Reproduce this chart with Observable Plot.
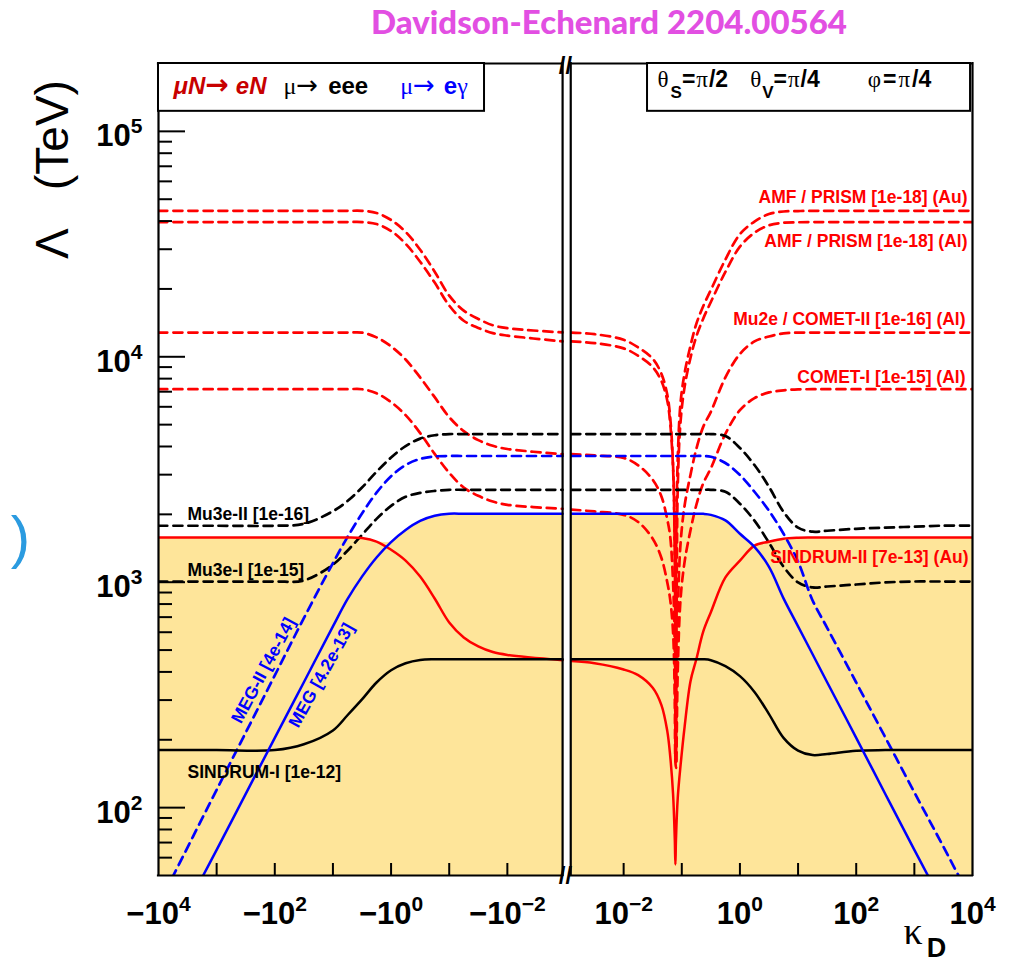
<!DOCTYPE html>
<html>
<head>
<meta charset="utf-8">
<script src="https://cdn.jsdelivr.net/npm/d3@7"></script>
<script src="https://cdn.jsdelivr.net/npm/@observablehq/plot@0.6"></script>
<style>
  html, body { margin: 0; padding: 0; background: #fff; }
  #title { height: 40px; width: 1010px; box-sizing: border-box; padding-left: 208px; text-align: center;
           font-family: Lato, "Open Sans", sans-serif; font-weight: 900; font-size: 33px; line-height: 42px; color: #e24fe2; }
  #chart svg { display: block; }
</style>
</head>
<body>
<div id="title">Davidson-Echenard 2204.00564</div>
<div id="chart"></div>
<script>
// ================= DATA =================
// Left panel: κ_D < 0, grid given as log10|κ_D|
const logKappaLeft = [4, 3, 2, 1.5, 1, 0.75, 0.5, 0.25, 0, -0.25, -0.5, -0.75, -1, -1.25, -1.5, -1.75, -2, -2.95];
// Right panel: κ_D > 0, grid given as log10 κ_D
const logKappaRight = [-2.9, -2.5, -2, -1.75, -1.5, -1.35, -1.25, -1.2, -1.15, -1.12, -1.11, -1.1, -1.07, -1.02, -0.95, -0.85,
                       -0.75, -0.63, -0.5, -0.25, 0, 0.25, 0.5, 0.75, 1, 1.25, 1.5, 2, 2.5, 3, 3.5, 4];

// Λ (TeV) — μN→eN (red)
const sindrumII_L = [1580,1580,1580,1580,1580,1580,1570,1515,1393,1247,1059,847,663,569,519,490,476,451];
const sindrumII_R = [447,437,410,387,340,285,219,170,115,72,56,72,110,155,230,364,455,605,736,1050,1247,1453,1513,1560,1575,1577,1577,1577,1577,1577,1577,1577];
const amfAu_L = [44400,44400,44400,44400,44400,44400,44400,43450,40460,35820,29840,23850,18670,16030,14720,13800,13400,12820];
const amfAu_R = [12800,12600,11900,11000,9800,8400,6800,5400,3300,1200,160,1200,3500,6300,8500,11200,14000,16800,19800,27000,35000,39800,43000,44100,44300,44400,44400,44400,44400,44400,44400,44400];
const amfAl_L = [39600,39600,39600,39600,39600,39600,39600,38800,36150,31720,26400,21330,16880,14450,13430,12740,12420,11700];
const amfAl_R = [11700,11500,10900,10100,9000,7800,6400,5100,3200,1300,300,160,2600,5200,7400,9900,12300,14800,17500,23800,30800,35500,38300,39300,39500,39600,39600,39600,39600,39600,39600,39600];
const mu2e_L = [12800,12800,12800,12800,12800,12800,12800,12190,11120,9730,8100,6620,5400,4680,4270,4030,3900,3700];
const mu2e_R = [3700,3650,3560,3300,2850,2400,1900,1600,1000,500,250,160,700,1500,2200,3000,3900,4900,5700,8100,10300,11700,12300,12700,12800,12800,12800,12800,12800,12800,12800,12800];
const cometI_L = [7180,7180,7180,7180,7180,7180,7180,6890,6290,5510,4590,3710,3057,2630,2417,2280,2205,2117];
const cometI_R = [2100,2060,1990,1850,1560,1280,1000,840,600,300,160,150,400,850,1240,1700,2200,2750,3200,4550,5800,6550,6950,7100,7170,7180,7180,7180,7180,7180,7180,7180];

// Λ (TeV) — μ→eee (black)
const sindrumI_L = [180,180,180,191,220,257,302,359,407,437,452,455,455,455,455,455,455,455];
const sindrumI_R = [455,455,455,455,455,455,455,455,455,455,455,455,455,455,455,455,455,455,451,424,383,326,260,204,179,171,173,179,180,180,180,180];
const mu3eII_L = [1780,1780,1780,1815,2065,2291,2630,3090,3573,4018,4335,4487,4540,4540,4540,4540,4540,4540];
const mu3eII_R = [4540,4540,4540,4540,4540,4540,4540,4540,4540,4540,4540,4540,4540,4540,4540,4540,4540,4540,4540,4450,3940,3310,2650,2052,1746,1675,1692,1726,1746,1764,1782,1782];
const mu3eI_L = [1007,1007,1007,1018,1197,1380,1622,1910,2181,2392,2490,2541,2570,2570,2570,2570,2570,2570];
const mu3eI_R = [2570,2570,2570,2570,2570,2570,2570,2570,2570,2570,2570,2570,2570,2570,2570,2570,2570,2570,2570,2518,2228,1875,1497,1172,998,948,957,977,998,1007,1007,1007];

// Λ (TeV) — μ→eγ (blue)
const meg_L = [21,65,204,360,637,841,1059,1288,1507,1706,1871,1972,2013,2013,2013,2013,2013,2013];
const meg_R = [2013,2013,2013,2013,2013,2013,2013,2013,2013,2013,2013,2013,2013,2013,2013,2013,2013,2010,1990,1880,1640,1435,1170,848,637,479,360,204,115,65,37,21];
const megII_L = [37,120,386,693,1216,1585,2018,2495,2951,3311,3524,3614,3630,3630,3630,3630,3630,3630];
const megII_R = [3630,3630,3630,3630,3630,3630,3630,3630,3630,3630,3630,3630,3630,3630,3630,3630,3630,3630,3600,3380,2990,2520,2075,1640,1234,830,628,359,205,117,67,38];

// tick labels (exponents)
const xLabelExpLeft = [4, 2, 0, -2];     // −10^e
const xLabelExpRight = [-2, 0, 2, 4];    // 10^e
const xDecadeExpLeft = [3, 2, 1, 0, -1, -2];
const xDecadeExpRight = [-2, -1, 0, 1, 2, 3];
const yLabelExp = [2, 3, 4, 5];

// text
const curveLabels = ["Mu3e-II [1e-16]", "Mu3e-I [1e-15]", "SINDRUM-I [1e-12]", "MEG-II [4e-14]", "MEG [4.2e-13]",
  "SINDRUM-II [7e-13] (Au)", "AMF / PRISM [1e-18] (Au)", "AMF / PRISM [1e-18] (Al)", "Mu2e / COMET-II [1e-16] (Al)", "COMET-I [1e-15] (Al)"];

// ================= LAYOUT / SCALES =================
const yMin = 50, yMax = 2.0e5;
const sNeg = lk => 4 - lk;   // broken-axis position of κ = −10^lk
const sPos = lk => 10 + lk;  // broken-axis position of κ = +10^lk
const S_BREAK_L = sNeg(-2.95), S_BREAK_R = sPos(-2.91);

const leftRows = logKappaLeft.map((lk, i) => ({
  s: sNeg(lk), sindrumII: sindrumII_L[i], amfAu: amfAu_L[i], amfAl: amfAl_L[i], mu2e: mu2e_L[i], cometI: cometI_L[i],
  sindrumI: sindrumI_L[i], mu3eII: mu3eII_L[i], mu3eI: mu3eI_L[i], meg: meg_L[i], megII: megII_L[i]
}));
const rightRows = logKappaRight.map((lk, i) => ({
  s: sPos(lk), sindrumII: sindrumII_R[i], amfAu: amfAu_R[i], amfAl: amfAl_R[i], mu2e: mu2e_R[i], cometI: cometI_R[i],
  sindrumI: sindrumI_R[i], mu3eII: mu3eII_R[i], mu3eI: mu3eI_R[i], meg: meg_R[i], megII: megII_R[i]
}));
const envelope = d => Math.max(d.sindrumII, d.sindrumI, d.meg);

const RED = "#ff0000", BLUE = "#0000ff", BLACK = "#000000";
const styles = [
  ["amfAu", RED, true], ["amfAl", RED, true], ["mu2e", RED, true], ["cometI", RED, true],
  ["mu3eII", BLACK, true], ["mu3eI", BLACK, true], ["megII", BLUE, true],
  ["sindrumII", RED, false], ["sindrumI", BLACK, false], ["meg", BLUE, false]
];

const lineMarks = [];
for (const rows of [leftRows, rightRows]) {
  for (const [key, color, dashed] of styles) {
    lineMarks.push(Plot.line(rows, {
      x: "s", y: key, stroke: color, strokeWidth: dashed ? 2.7 : 2.5,
      strokeDasharray: dashed ? "9,6" : null, curve: "catmull-rom", clip: true
    }));
  }
}

const yMajor = yLabelExp.map(e => 10 ** e);
const yMinor = [];
for (let e = 1; e <= 5; e++) for (let m = 2; m <= 9; m++) { const v = m * 10 ** e; if (v > yMin && v < yMax) yMinor.push(v); }
const xTickPos = [...xDecadeExpLeft.map(sNeg), ...xDecadeExpRight.map(sPos)];
const px = p => p / 58.14;             // pixel length -> s units
const ypx = (v, p) => v * 10 ** (p / 225); // move a y value up by p pixels

const sup = e => (e < 0 ? "\u2212" + (-e) : String(e));
const xLabels = [
  ...xLabelExpLeft.map(e => ({s: sNeg(e), t: "\u221210^" + sup(e)})),
  ...xLabelExpRight.map(e => ({s: sPos(e), t: "10^" + sup(e)}))
];

const SERIF = "'Liberation Serif', 'DejaVu Serif', serif";
const ARROW = "'DejaVu Sans', sans-serif";
const RICH = {
  "@legL": `<tspan fill="#c80000" font-weight="bold" font-style="italic">μN</tspan><tspan fill="#c80000" font-family="${ARROW}" font-weight="bold" font-size="28">→</tspan><tspan fill="#c80000" font-weight="bold" font-style="italic" dx="7">eN</tspan>` +
           `<tspan dx="17" font-family="${SERIF}">μ</tspan><tspan font-family="${ARROW}" font-size="26">→</tspan><tspan dx="10" font-weight="bold">eee</tspan>` +
           `<tspan dx="32" fill="#0000ff" font-family="${SERIF}">μ</tspan><tspan fill="#0000ff" font-family="${ARROW}" font-size="26">→</tspan><tspan dx="9" fill="#0000ff" font-weight="bold">e</tspan><tspan fill="#0000ff" font-family="${SERIF}">γ</tspan>`,
  "@legR": `<tspan font-family="${SERIF}">θ</tspan><tspan font-weight="bold" font-size="17" dy="11" dx="2">S</tspan><tspan font-weight="bold" dy="-11">=</tspan><tspan dx="1" font-family="${SERIF}">π</tspan><tspan font-weight="bold" dx="1">/2</tspan>` +
           `<tspan dx="22" font-family="${SERIF}">θ</tspan><tspan font-weight="bold" font-size="17" dy="11" dx="1">V</tspan><tspan font-weight="bold" dy="-11">=</tspan><tspan dx="1" font-family="${SERIF}">π</tspan><tspan font-weight="bold" dx="1">/4</tspan>` +
           `<tspan dx="48" font-family="${SERIF}">φ</tspan><tspan font-weight="bold" dx="2">=</tspan><tspan dx="2" font-family="${SERIF}">π</tspan><tspan font-weight="bold" dx="2">/4</tspan>`,
  "@kappa": `<tspan font-family="${SERIF}" font-size="38">κ</tspan><tspan font-weight="bold" font-size="27" dy="13" dx="4">D</tspan>`
};

const chart = Plot.plot({
  width: 1010, height: 924,
  marginTop: 23, marginBottom: 89, marginLeft: 158, marginRight: 38,
  x: {domain: [0, 14], axis: null},
  y: {type: "log", domain: [yMin, yMax], axis: null},
  style: {fontFamily: "'Liberation Sans', Arial, Helvetica, sans-serif", background: "white", overflow: "visible"},
  marks: [
    // excluded region (current limits)
    Plot.areaY(leftRows, {x: "s", y1: yMin, y2: envelope, fill: "#fee59a", curve: "catmull-rom"}),
    Plot.areaY(rightRows, {x: "s", y1: yMin, y2: envelope, fill: "#fee59a", curve: "catmull-rom"}),
    ...lineMarks,
    // frame
    Plot.ruleX([0, S_BREAK_L, S_BREAK_R, 14], {x: d => d, y1: yMin, y2: yMax, strokeWidth: 2.2, strokeLinecap: "square"}),
    Plot.ruleY([yMin, yMax], {y: d => d, x1: 0, x2: S_BREAK_L, strokeWidth: 2.2, strokeLinecap: "square"}),
    Plot.ruleY([yMin, yMax], {y: d => d, x1: S_BREAK_R, x2: 14, strokeWidth: 2.2, strokeLinecap: "square"}),
    // ticks
    Plot.ruleY(yMajor, {y: d => d, x1: 0, x2: px(27), strokeWidth: 2}),
    Plot.ruleY(yMinor, {y: d => d, x1: 0, x2: px(14), strokeWidth: 2}),
    Plot.ruleX(xTickPos, {x: d => d, y1: yMin, y2: ypx(yMin, 12), strokeWidth: 2}),
    // axis break marks
    Plot.text(["//"], {x: 7, y: yMax, text: d => d, fontSize: 24, fontWeight: "bold", dy: 3}),
    Plot.text(["//"], {x: 7, y: yMin, text: d => d, fontSize: 24, fontWeight: "bold", dy: 1}),
    // tick labels
    Plot.text(xLabels, {x: "s", text: "t", frameAnchor: "bottom", dy: 48, fontSize: 31, fontWeight: "bold", textAnchor: "middle"}),
    Plot.text(yLabelExp, {x: 0, y: e => 10 ** e, text: e => "10^" + sup(e), dx: -16, dy: 5, fontSize: 31, fontWeight: "bold", textAnchor: "end"}),
    // axis titles
    Plot.text(["\u039b\u00a0\u00a0\u00a0(TeV)"], {x: px(53 - 158), y: 67700, text: d => d, rotate: -90, fontSize: 46}),
    Plot.text(["@kappa"], {x: px(903 - 158), y: 26.7, text: d => d, textAnchor: "start", dy: 4}),
    Plot.text([")"], {x: px(20 - 158), y: 1560, text: d => d, fontSize: 58, fill: "#2b9be0"}),
    // legend boxes
    Plot.rect([0], {x1: 0, x2: px(484 - 158), y1: 122700, y2: yMax, fill: "white", stroke: "black", strokeWidth: 2}),
    Plot.rect([0], {x1: px(647 - 158), x2: px(970 - 158), y1: 122700, y2: yMax, fill: "white", stroke: "black", strokeWidth: 2}),
    Plot.text(["@legL"], {x: px(173 - 158), y: 158500, text: d => d, textAnchor: "start", fontSize: 24}),
    Plot.text(["@legR"], {x: px(657 - 158), y: 170200, text: d => d, textAnchor: "start", fontSize: 23}),
    // curve labels
    Plot.text([curveLabels[0]], {x: px(187 - 158), y: 2005, text: d => d, textAnchor: "start", fontSize: 17.5, fontWeight: "bold"}),
    Plot.text([curveLabels[1]], {x: px(187 - 158), y: 1130, text: d => d, textAnchor: "start", fontSize: 17.5, fontWeight: "bold"}),
    Plot.text([curveLabels[2]], {x: px(187 - 158), y: 143, text: d => d, textAnchor: "start", fontSize: 17.5, fontWeight: "bold"}),
    Plot.text([curveLabels[3]], {x: px(263 - 158), y: 406, text: d => d, rotate: -62, fontSize: 17.5, fontWeight: "bold", fill: BLUE}),
    Plot.text([curveLabels[4]], {x: px(321 - 158), y: 386, text: d => d, rotate: -61, fontSize: 17.5, fontWeight: "bold", fill: BLUE}),
    Plot.text([curveLabels[5]], {x: px(968 - 158), y: 1291, text: d => d, textAnchor: "end", fontSize: 17.5, fontWeight: "bold", fill: RED}),
    Plot.text([curveLabels[6]], {x: px(967 - 158), y: 50900, text: d => d, textAnchor: "end", fontSize: 17.5, fontWeight: "bold", fill: RED}),
    Plot.text([curveLabels[7]], {x: px(967 - 158), y: 32400, text: d => d, textAnchor: "end", fontSize: 17.5, fontWeight: "bold", fill: RED}),
    Plot.text([curveLabels[8]], {x: px(965 - 158), y: 14600, text: d => d, textAnchor: "end", fontSize: 17.5, fontWeight: "bold", fill: RED}),
    Plot.text([curveLabels[9]], {x: px(965 - 158), y: 8070, text: d => d, textAnchor: "end", fontSize: 17.5, fontWeight: "bold", fill: RED})
  ]
});

document.getElementById("chart").appendChild(chart);

// rich-text post-processing: superscripts and mixed styles
chart.querySelectorAll("text").forEach(t => {
  const k = t.textContent;
  if (RICH[k]) { t.innerHTML = RICH[k]; return; }
  const i = k.indexOf("^");
  if (i >= 0) {
    const base = k.slice(0, i), ex = k.slice(i + 1);
    t.innerHTML = `${base}<tspan dy="-13" font-size="21">${ex}</tspan>`;
  }
});
</script>
</body>
</html>
